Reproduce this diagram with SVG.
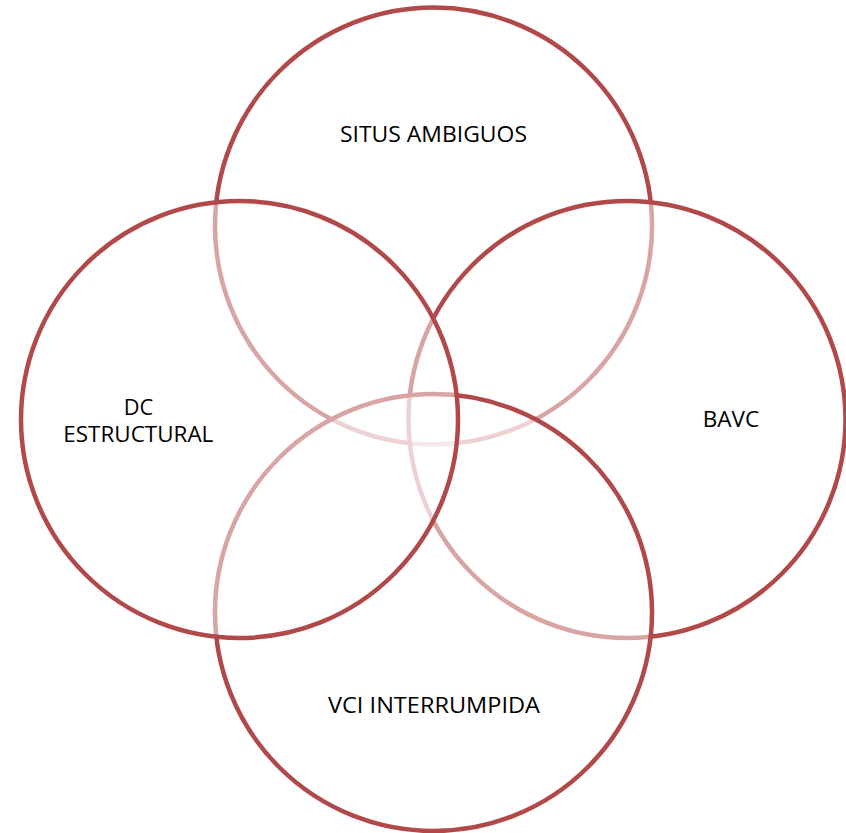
<svg xmlns="http://www.w3.org/2000/svg" width="846" height="833" viewBox="0 0 846 833">
<style>
.c{fill:#ffffff;fill-opacity:0.5;stroke:#b14849;stroke-width:4.5}
.t{font-family:"Open Sans","Liberation Sans",sans-serif;font-size:21.5px;fill:#000000;text-anchor:middle}
</style>
<rect width="846" height="833" fill="#ffffff"/>
<g id="situs">
<circle class="c" cx="433.5" cy="226" r="218.5"/>
<text class="t" x="433.5" y="142.3" textLength="187" lengthAdjust="spacingAndGlyphs">SITUS AMBIGUOS</text>
</g>
<g id="bavc">
<circle class="c" cx="627" cy="419.5" r="218.5"/>
<text class="t" x="731" y="427.3" textLength="56.5" lengthAdjust="spacingAndGlyphs">BAVC</text>
</g>
<g id="vci">
<circle class="c" cx="433.5" cy="612.5" r="218.5"/>
<text class="t" x="434" y="713" textLength="212" lengthAdjust="spacingAndGlyphs">VCI INTERRUMPIDA</text>
</g>
<g id="dc">
<circle class="c" cx="239.5" cy="419.5" r="218.5"/>
<text class="t" x="138.5" y="415" textLength="29.5" lengthAdjust="spacingAndGlyphs">DC</text>
<text class="t" x="138.3" y="441.7" textLength="150" lengthAdjust="spacingAndGlyphs">ESTRUCTURAL</text>
</g>
</svg>
